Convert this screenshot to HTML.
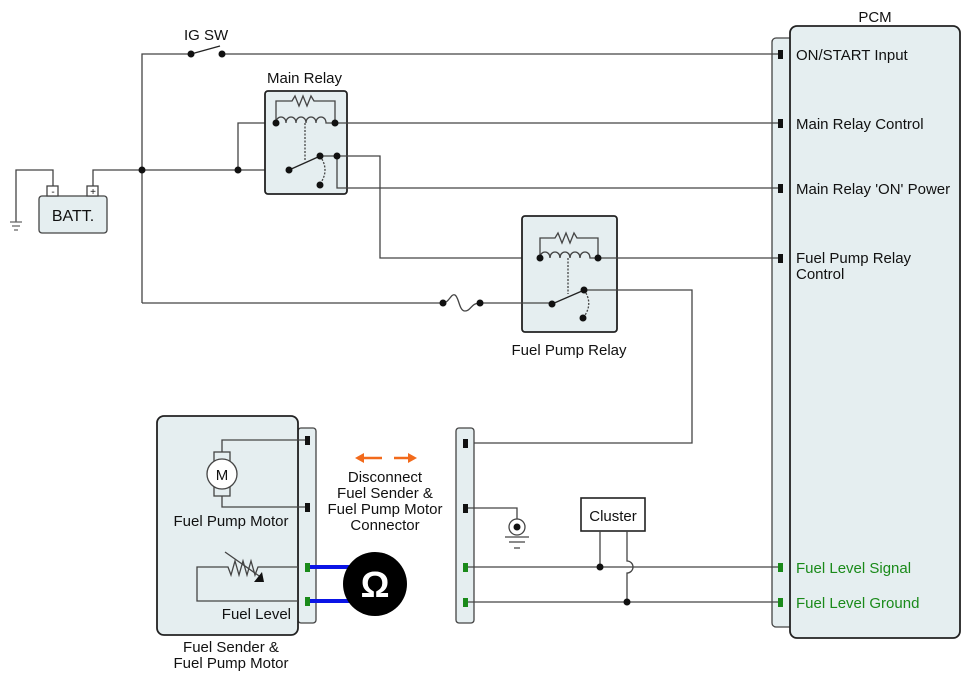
<!DOCTYPE html>
<html><head><meta charset="utf-8"><style>
body{margin:0;background:#fff}
svg{display:block}
text{font-family:"Liberation Sans",sans-serif;font-size:15px;fill:#111}
</style></head><body>
<svg width="971" height="681" viewBox="0 0 971 681" xmlns="http://www.w3.org/2000/svg">
<g fill="none" stroke="#444" stroke-width="1.3">
<rect x="772" y="38" width="24" height="589" rx="4" fill="#e5eef0"/>
<rect x="790" y="26" width="170" height="612" rx="7" fill="#e5eef0" stroke="#222" stroke-width="1.8"/>
<path d="M142 303V54H191M222 54H780"/>
<path d="M191 54L220 46" stroke="#222"/>
<path d="M53 188V170H16V222M93 188V170H142M142 170H289M238 170V123H276"/>
<path d="M10 222h12M12 226h8M14 230h4" stroke="#666"/>
<rect x="39" y="196" width="68" height="37" rx="3" fill="#e5eef0"/>
<rect x="47" y="186" width="11" height="10" fill="#fff"/>
<rect x="87" y="186" width="11" height="10" fill="#fff"/>
<rect x="265" y="91" width="82" height="103" rx="3" fill="#e5eef0" stroke="#222" stroke-width="1.8"/>
<path d="M276 123V101H292l3-5 4 10 4-10 4 10 4-10 3 5H335V123"/>
<path d="M276 123c0-8 10-8 10 0c0-8 10-8 10 0c0-8 10-8 10 0c0-8 10-8 10 0c0-8 10-8 10 0h9"/>
<path d="M305 123V160" stroke-dasharray="2 1.5"/>
<path d="M289 170L318 157" stroke="#222"/>
<path d="M320 156q10 14 0 28" stroke-dasharray="2 1.5"/>
<path d="M335 123H780M320 156H380V258H540M337 156V188H780"/>
<rect x="522" y="216" width="95" height="116" rx="3" fill="#e5eef0" stroke="#222" stroke-width="1.8"/>
<path d="M540 258V238H555l3-5 4 10 4-10 4 10 4-10 3 5H598V258"/>
<path d="M540 258c0-8 10-8 10 0c0-8 10-8 10 0c0-8 10-8 10 0c0-8 10-8 10 0c0-8 10-8 10 0h8"/>
<path d="M568 258V294" stroke-dasharray="2 1.5"/>
<path d="M552 304L582 291" stroke="#222"/>
<path d="M584 290q10 14 -1 28" stroke-dasharray="2 1.5"/>
<path d="M598 258H780M584 290H692V443H465"/>
<path d="M142 303H443M480 303H552"/>
<path d="M443 303c6 0 8-10 12-8s4 16 10 16 6-8 15-8"/>
<rect x="456" y="428" width="18" height="195" rx="3" fill="#e5eef0"/>
<path d="M465 508H517V519M465 567H780M465 602H780"/>
<circle cx="517" cy="527" r="8" fill="#fff"/>
<path d="M505 537h24M509 542h16M514 548h6"/>
<rect x="581" y="498" width="64" height="33" fill="#fff" stroke="#222" stroke-width="1.6"/>
<path d="M600 531V567M627 531V561a6 6 0 0 1 0 12V602"/>
<rect x="298" y="428" width="18" height="195" rx="3" fill="#e5eef0"/>
<rect x="157" y="416" width="141" height="219" rx="7" fill="#e5eef0" stroke="#222" stroke-width="1.8"/>
<path d="M307 440H222V459M222 489V507H307"/>
<rect x="214" y="452" width="16" height="44" fill="#e5eef0"/>
<circle cx="222" cy="474" r="15" fill="#fff"/>
<path d="M298 567H258l-3 8-4-14-4 14-4-14-4 14-4-14-4 14-3-8H197V601H298"/>
<path d="M225 552L262 578"/>
</g>
<polygon points="254,582 262,572 264,582" fill="#111"/>
<g fill="#111">
<circle cx="191" cy="54" r="3.5"/><circle cx="222" cy="54" r="3.5"/>
<circle cx="142" cy="170" r="3.5"/><circle cx="238" cy="170" r="3.5"/>
<circle cx="276" cy="123" r="3.5"/><circle cx="335" cy="123" r="3.5"/>
<circle cx="289" cy="170" r="3.5"/><circle cx="320" cy="156" r="3.5"/><circle cx="337" cy="156" r="3.5"/><circle cx="320" cy="185" r="3.5"/>
<circle cx="540" cy="258" r="3.5"/><circle cx="598" cy="258" r="3.5"/>
<circle cx="552" cy="304" r="3.5"/><circle cx="584" cy="290" r="3.5"/><circle cx="583" cy="318" r="3.5"/>
<circle cx="443" cy="303" r="3.5"/><circle cx="480" cy="303" r="3.5"/>
<circle cx="600" cy="567" r="3.5"/><circle cx="627" cy="602" r="3.5"/>
<circle cx="517" cy="527" r="3.5"/>
<rect x="778" y="50" width="5" height="9"/><rect x="778" y="119" width="5" height="9"/>
<rect x="778" y="184" width="5" height="9"/><rect x="778" y="254" width="5" height="9"/>
<rect x="305" y="436" width="5" height="9"/><rect x="305" y="503" width="5" height="9"/>
<rect x="463" y="439" width="5" height="9"/><rect x="463" y="504" width="5" height="9"/>
</g>
<g fill="#1a8a1a">
<rect x="778" y="563" width="5" height="9"/><rect x="778" y="598" width="5" height="9"/>
<rect x="305" y="563" width="5" height="9"/><rect x="305" y="597" width="5" height="9"/>
<rect x="463" y="563" width="5" height="9"/><rect x="463" y="598" width="5" height="9"/>
</g>
<path d="M310 567H355M310 601H355" stroke="#0a14e6" stroke-width="4"/>
<circle cx="375" cy="584" r="32" fill="#000"/>
<text x="375" y="597" text-anchor="middle" style="font-size:36px;font-weight:bold;fill:#fff">Ω</text>
<path d="M362 458H382M394 458H410" stroke="#f26a1b" stroke-width="2.5"/>
<polygon points="355,458 364,453 364,463" fill="#f26a1b"/>
<polygon points="417,458 408,453 408,463" fill="#f26a1b"/>
<text x="184" y="40">IG SW</text>
<text x="267" y="83">Main Relay</text>
<text x="73" y="221" text-anchor="middle" style="font-size:16px">BATT.</text>
<text x="53" y="195" text-anchor="middle" style="font-size:10px">-</text>
<text x="93" y="195" text-anchor="middle" style="font-size:10px">+</text>
<text x="569" y="355" text-anchor="middle">Fuel Pump Relay</text>
<text x="875" y="22" text-anchor="middle">PCM</text>
<text x="796" y="60">ON/START Input</text>
<text x="796" y="129">Main Relay Control</text>
<text x="796" y="194">Main Relay 'ON' Power</text>
<text x="796" y="263">Fuel Pump Relay</text>
<text x="796" y="279">Control</text>
<text x="796" y="573" style="fill:#1a8a1a">Fuel Level Signal</text>
<text x="796" y="608" style="fill:#1a8a1a">Fuel Level Ground</text>
<text x="613" y="521" text-anchor="middle">Cluster</text>
<text x="222" y="480" text-anchor="middle">M</text>
<text x="231" y="526" text-anchor="middle">Fuel Pump Motor</text>
<text x="291" y="619" text-anchor="end">Fuel Level</text>
<text x="231" y="652" text-anchor="middle">Fuel Sender &amp;</text>
<text x="231" y="668" text-anchor="middle">Fuel Pump Motor</text>
<text x="385" y="482" text-anchor="middle">Disconnect</text>
<text x="385" y="498" text-anchor="middle">Fuel Sender &amp;</text>
<text x="385" y="514" text-anchor="middle">Fuel Pump Motor</text>
<text x="385" y="530" text-anchor="middle">Connector</text>
</svg>
</body></html>
